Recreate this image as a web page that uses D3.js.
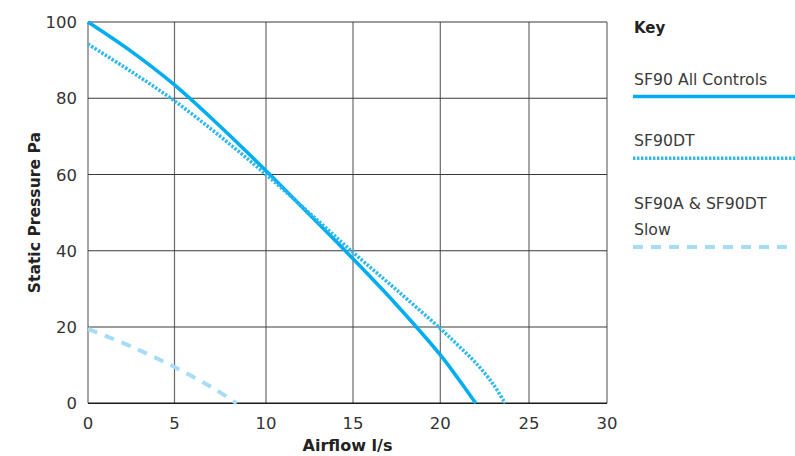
<!DOCTYPE html>
<html>
<head>
<meta charset="utf-8">
<script src="https://cdn.jsdelivr.net/npm/d3@7"></script>
<style>
  body { margin: 0; background: #fff; }
  svg { display: block; font-family: "DejaVu Sans", Arial, sans-serif; }
</style>
</head>
<body>
<script>
// Axis ticks
const xTicks = [0, 5, 10, 15, 20, 25, 30];
const yTicks = [0, 20, 40, 60, 80, 100];

// Curves (airflow l/s, static pressure Pa)
const allControlsX = [0, 2.5, 5, 7.5, 10, 12.5, 15, 17.5, 20, 21, 22];
const allControlsY = [100, 92.3, 83.5, 72.6, 61.0, 49.5, 37.9, 25.8, 12.7, 6.5, 0];

const dtX = [0, 2.5, 5, 7.5, 10, 12.5, 15, 17.5, 20, 21, 22, 23, 23.65];
const dtY = [94.2, 87.0, 79.3, 70.0, 60.0, 49.9, 39.6, 29.7, 19.6, 15.2, 10.6, 4.9, 0];

const slowX = [0, 2.5, 5, 7, 8.4];
const slowY = [19.5, 14.9, 9.5, 4.3, 0];

const keyLabels = [["SF90 All Controls"], ["SF90DT"], ["SF90A & SF90DT", "Slow"]];

const W = 795, H = 456;
const svg = d3.select("body").append("svg")
    .attr("width", W)
    .attr("height", H);

// The printed grid is slightly uneven, so the x scale follows the drawn gridlines
var x = d3.scaleLinear()
    .domain(xTicks)
    .range([88, 174.5, 266, 353, 440.3, 529, 607]);

var y = d3.scaleLinear()
    .domain([0, 100])
    .range([403.3, 22]);

// grid
svg.append("g")
    .selectAll("line")
    .data(xTicks)
    .join("line")
    .attr("x1", d => x(d)).attr("x2", d => x(d))
    .attr("y1", y(100)).attr("y2", y(0))
    .attr("stroke", "#6a6a6a")
    .attr("stroke-width", 1.2);

svg.append("g")
    .selectAll("line")
    .data(yTicks)
    .join("line")
    .attr("x1", x(0)).attr("x2", x(30))
    .attr("y1", d => y(d)).attr("y2", d => y(d))
    .attr("stroke", d => d === 0 ? "#1a1a1a" : "#3a3a3a")
    .attr("stroke-width", d => d === 0 ? 1.6 : 1.1);

// tick labels
svg.append("g")
    .selectAll("text")
    .data(yTicks)
    .join("text")
    .attr("x", 77)
    .attr("y", d => y(d) + 6)
    .attr("text-anchor", "end")
    .style("font-size", "16.5px")
    .attr("fill", "#333")
    .text(d => d);

svg.append("g")
    .selectAll("text")
    .data(xTicks)
    .join("text")
    .attr("x", d => x(d))
    .attr("y", 429)
    .attr("text-anchor", "middle")
    .style("font-size", "16.5px")
    .attr("fill", "#333")
    .text(d => d);

// axis titles
svg.append("text")
    .attr("x", (x(0) + x(30)) / 2)
    .attr("y", 451)
    .attr("text-anchor", "middle")
    .style("font-size", "16px")
    .style("font-weight", "bold")
    .attr("fill", "#222")
    .text("Airflow l/s");

svg.append("text")
    .attr("transform", `translate(40,${(y(0) + y(100)) / 2}) rotate(-90)`)
    .attr("text-anchor", "middle")
    .style("font-size", "15.6px")
    .style("font-weight", "bold")
    .attr("fill", "#222")
    .text("Static Pressure Pa");

// curves
const line = d3.line()
    .x(d => x(d[0]))
    .y(d => y(d[1]))
    .curve(d3.curveCatmullRom.alpha(0.5));

const series = [
    { xs: allControlsX, ys: allControlsY, color: "#00aeef", width: 3.6, dash: null },
    { xs: dtX, ys: dtY, color: "#2fb9ee", width: 3.6, dash: "2.4,1.6" },
    { xs: slowX, ys: slowY, color: "#a6dcf6", width: 4, dash: "10,8" }
];

series.forEach(function (s) {
    svg.append("path")
        .datum(s.xs.map((v, i) => [v, s.ys[i]]))
        .attr("d", line)
        .attr("fill", "none")
        .attr("stroke", s.color)
        .attr("stroke-width", s.width)
        .attr("stroke-dasharray", s.dash);
});

// key
svg.append("text")
    .attr("x", 634)
    .attr("y", 33)
    .style("font-size", "15px")
    .style("font-weight", "bold")
    .attr("fill", "#222")
    .text("Key");

const keyLineY = [96.5, 158.3, 247];
keyLabels.forEach(function (lines, i) {
    lines.forEach(function (t, j) {
        svg.append("text")
            .attr("x", 634)
            .attr("y", keyLineY[i] - 12 - (lines.length - 1 - j) * 26)
            .style("font-size", "15.7px")
            .attr("fill", "#3a3a3a")
            .text(t);
    });
    svg.append("line")
        .attr("x1", 633).attr("x2", W)
        .attr("y1", keyLineY[i]).attr("y2", keyLineY[i])
        .attr("stroke", series[i].color)
        .attr("stroke-width", series[i].width)
        .attr("stroke-dasharray", series[i].dash);
});
</script>
</body>
</html>
